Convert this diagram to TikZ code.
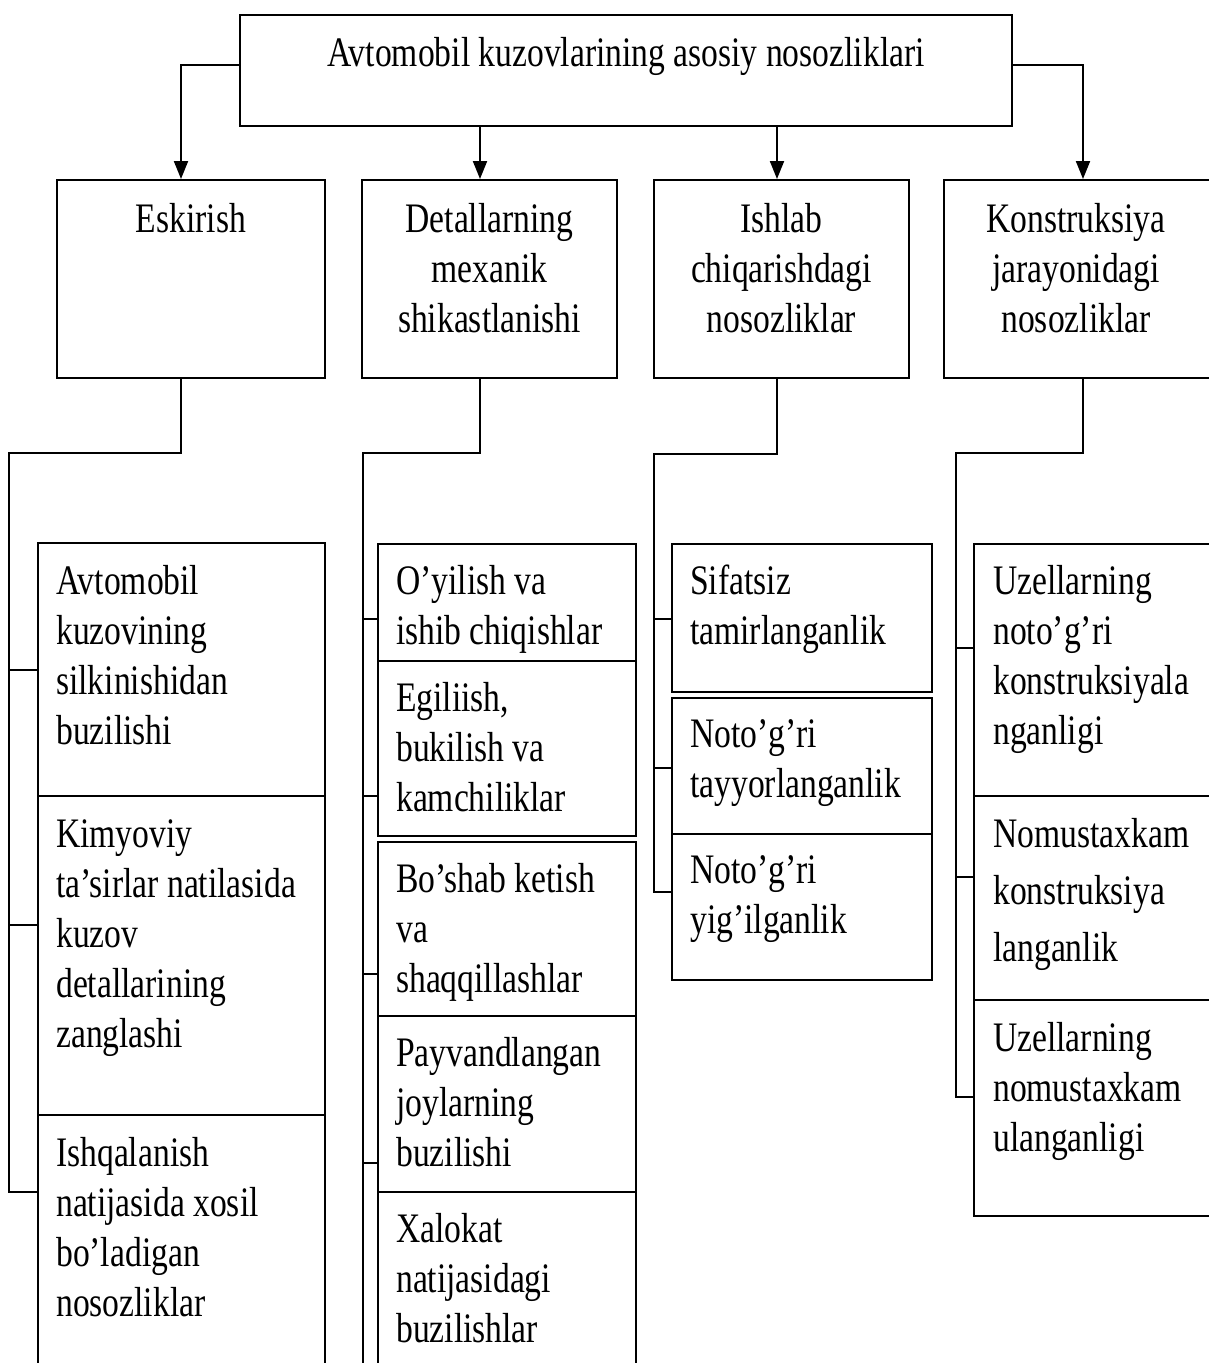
\documentclass[tikz,border=0pt]{standalone}
\usepackage{fontspec}
\setmainfont[FakeStretch=0.8]{Liberation Serif}
\usetikzlibrary{fit,arrows.meta}
\newcommand\lft[1]{\begin{tabular}[t]{@{}l@{}}#1\end{tabular}}
\newcommand\ctr[1]{\begin{tabular}[t]{@{}c@{}}#1\end{tabular}}
\begin{document}
\begin{tikzpicture}[x=1pt,y=-1pt,
  boxst/.style={draw, line width=2pt, inner sep=0pt},
  conn/.style={line width=1.5pt},
  arr/.style={line width=2pt, -{Triangle[length=18pt,width=14pt]}},
  txt/.style={inner sep=0pt, font=\fontsize{42}{50}\selectfont},
]
\useasboundingbox (0,0) rectangle (1209,1363);
\clip (0,0) rectangle (1209,1363);
% top
\node[boxst, fit={(240,15) (1012,126)}] (T) {};
\node[txt, anchor=base] (tT) at ([shift={(0,52)}]T.north) {Avtomobil kuzovlarining asosiy nosozliklari};
% level 2
\node[boxst, fit={(57,180) (325,378)}] (E) {};
\node[boxst, fit={(362,180) (617,378)}] (D) {};
\node[boxst, fit={(654,180) (909,378)}] (I) {};
\node[boxst, fit={(944,180) (1216,378)}] (K) {};
\node[txt, anchor=base] (tE) at ([shift={(0,53)}]E.north) {\ctr{Eskirish}};
\node[txt, anchor=base] (tD) at ([shift={(0,53)}]D.north) {\ctr{Detallarning\\mexanik\\shikastlanishi}};
\node[txt, anchor=base] (tI) at ([shift={(0,53)}]I.north) {\ctr{Ishlab\\chiqarishdagi\\nosozliklar}};
\node[txt, anchor=base] (tK) at ([shift={(-4,53)}]K.north) {\ctr{Konstruksiya\\jarayonidagi\\nosozliklar}};
% arrows
\coordinate (xa) at (181,0);
\coordinate (xb) at (480,0);
\coordinate (xc) at (777,0);
\coordinate (xd) at (1083,0);
\coordinate (ya) at (0,65);
\draw[arr] (T.west |- ya) -| (xa |- E.north);
\draw[arr] (T.east |- ya) -| (xd |- K.north);
\draw[arr] (xb |- T.south) -- (xb |- D.north);
\draw[arr] (xc |- T.south) -- (xc |- I.north);
% column 1 boxes
\node[boxst, fit={(38,543) (325,796)}] (L11) {};
\node[boxst, fit={(38,796) (325,1115)}] (L12) {};
\node[boxst, fit={(38,1115) (325,1380)}] (L13) {};
\node[txt, anchor=base west] (t11) at ([shift={(19,52)}]L11.north west) {\lft{Avtomobil\\kuzovining\\silkinishidan\\buzilishi}};
\node[txt, anchor=base west] (t12) at ([shift={(19,52)}]L12.north west) {\lft{Kimyoviy\\ta’sirlar natilasida\\kuzov\\detallarining\\zanglashi}};
\node[txt, anchor=base west] (t13) at ([shift={(19,52)}]L13.north west) {\lft{Ishqalanish\\natijasida xosil\\bo’ladigan\\nosozliklar}};
% column 2 boxes
\node[boxst, fit={(378,544) (636,661)}] (L21) {};
\node[boxst, fit={(378,661) (636,836)}] (L22) {};
\node[boxst, fit={(378,842) (636,1016)}] (L23) {};
\node[boxst, fit={(378,1016) (636,1192)}] (L24) {};
\node[boxst, fit={(378,1192) (636,1380)}] (L25) {};
\node[txt, anchor=base west] (t21) at ([shift={(19,51)}]L21.north west) {\lft{O’yilish va\\ishib chiqishlar}};
\node[txt, anchor=base west] (t22) at ([shift={(19,51)}]L22.north west) {\lft{Egiliish,\\bukilish va\\kamchiliklar}};
\node[txt, anchor=base west] (t23) at ([shift={(19,51)}]L23.north west) {\lft{Bo’shab ketish\\va\\shaqqillashlar}};
\node[txt, anchor=base west] (t24) at ([shift={(19,51)}]L24.north west) {\lft{Payvandlangan\\joylarning\\buzilishi}};
\node[txt, anchor=base west] (t25) at ([shift={(19,51)}]L25.north west) {\lft{Xalokat\\natijasidagi\\buzilishlar}};
% column 3 boxes
\node[boxst, fit={(672,544) (932,692)}] (L31) {};
\node[boxst, fit={(672,698) (932,834)}] (L32) {};
\node[boxst, fit={(672,834) (932,980)}] (L33) {};
\node[txt, anchor=base west] (t31) at ([shift={(19,51)}]L31.north west) {\lft{Sifatsiz\\tamirlanganlik}};
\node[txt, anchor=base west] (t32) at ([shift={(19,50)}]L32.north west) {\lft{Noto’g’ri\\tayyorlanganlik}};
\node[txt, anchor=base west] (t33) at ([shift={(19,50)}]L33.north west) {\lft{Noto’g’ri\\yig’ilganlik}};
% column 4 boxes
\node[boxst, fit={(974,544) (1216,796)}] (L41) {};
\node[boxst, fit={(974,796) (1216,1000)}] (L42) {};
\node[boxst, fit={(974,1000) (1216,1216)}] (L43) {};
\node[txt, anchor=base west] (t41) at ([shift={(20,51)}]L41.north west) {\lft{Uzellarning\\noto’g’ri\\konstruksiyala\\nganligi}};
\node[txt, anchor=base west] (t42) at ([shift={(20,52)}]L42.north west) {\lft{Nomustaxkam\\[7pt]konstruksiya\\[7pt]langanlik}};
\node[txt, anchor=base west] (t43) at ([shift={(20,52)}]L43.north west) {\lft{Uzellarning\\nomustaxkam\\ulanganligi}};
% column 1 tree
\coordinate (v1) at (9,453);
\coordinate (v1e) at (9,1192);
\coordinate (k11) at (9,670);
\coordinate (k12) at (9,925);
\draw[conn] (xa |- E.south) |- (v1) -- (v1e) -- (v1e -| L13.west);
\draw[conn] (k11) -- (k11 -| L11.west);
\draw[conn] (k12) -- (k12 -| L12.west);
% column 2 tree
\coordinate (v2) at (363,453);
\coordinate (v2e) at (363,1380);
\coordinate (k21) at (363,619);
\coordinate (k22) at (363,796);
\coordinate (k23) at (363,974);
\coordinate (k24) at (363,1163);
\draw[conn] (xb |- D.south) |- (v2) -- (v2e);
\draw[conn] (k21) -- (k21 -| L21.west);
\draw[conn] (k22) -- (k22 -| L22.west);
\draw[conn] (k23) -- (k23 -| L23.west);
\draw[conn] (k24) -- (k24 -| L24.west);
% column 3 tree
\coordinate (v3) at (654,454);
\coordinate (v3e) at (654,892);
\coordinate (k31) at (654,619);
\coordinate (k32) at (654,768);
\draw[conn] (xc |- I.south) |- (v3) -- (v3e) -- (v3e -| L33.west);
\draw[conn] (k31) -- (k31 -| L31.west);
\draw[conn] (k32) -- (k32 -| L32.west);
% column 4 tree
\coordinate (v4) at (956,453);
\coordinate (v4e) at (956,1097);
\coordinate (k41) at (956,648);
\coordinate (k42) at (956,877);
\draw[conn] (xd |- K.south) |- (v4) -- (v4e) -- (v4e -| L43.west);
\draw[conn] (k41) -- (k41 -| L41.west);
\draw[conn] (k42) -- (k42 -| L42.west);
\end{tikzpicture}
\end{document}
